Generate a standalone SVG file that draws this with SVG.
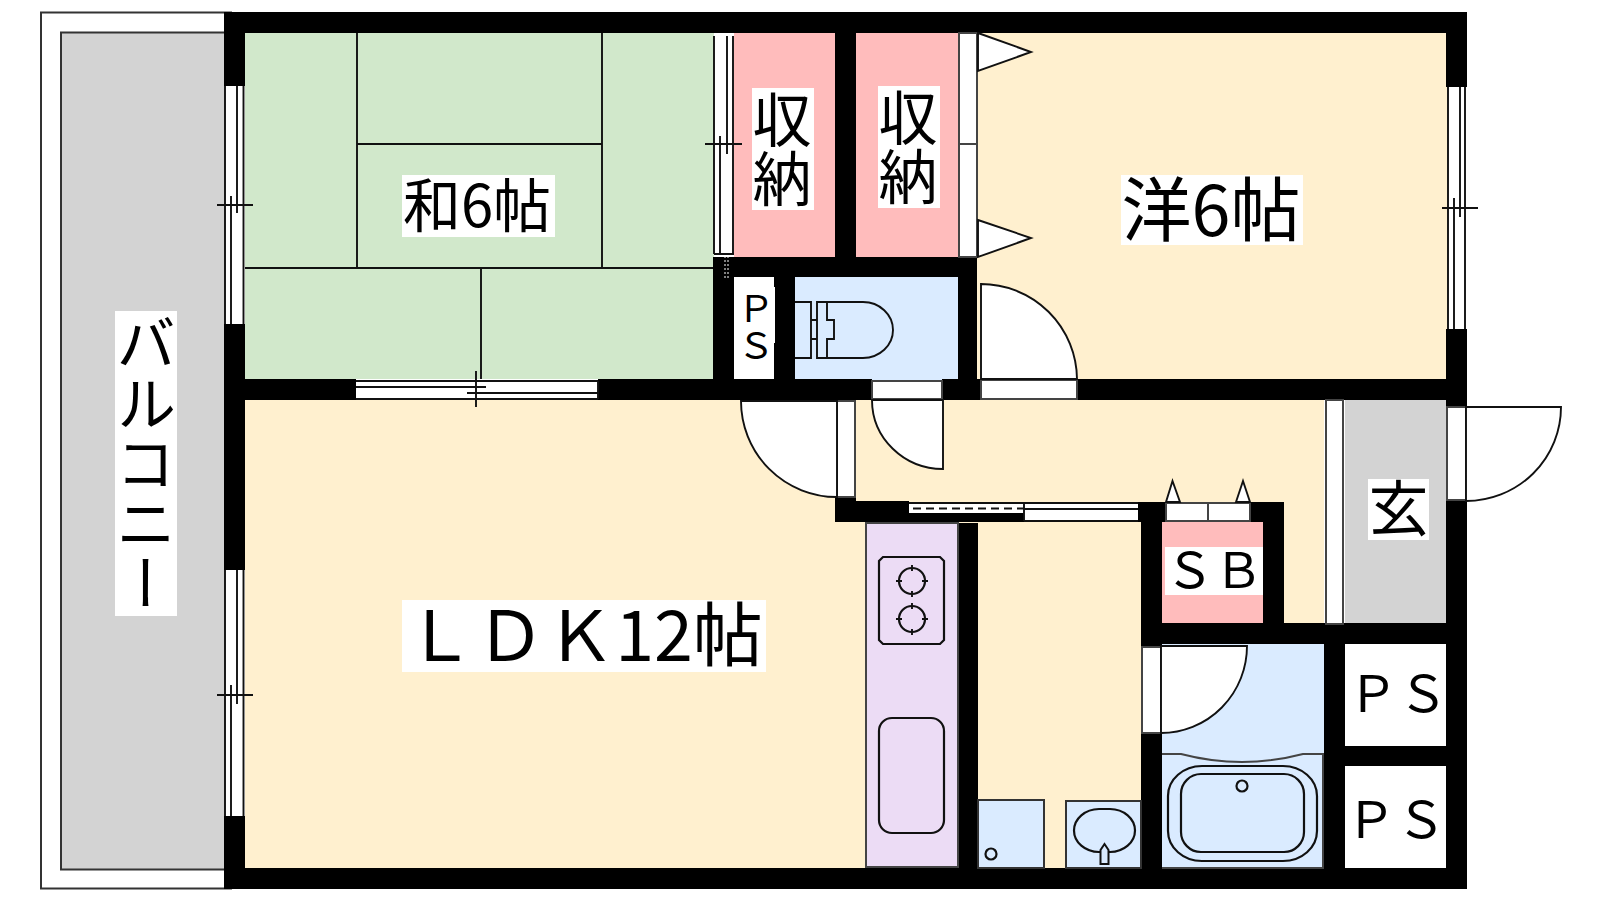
<svg xmlns="http://www.w3.org/2000/svg" width="1600" height="900" viewBox="0 0 1600 900">
<style>
.w{fill:#000}
.l{fill:none;stroke:#111;stroke-width:1.9}
.d{fill:#fff;stroke:#111;stroke-width:1.9}
.f{fill:#fff;stroke:#444;stroke-width:2}
.e{fill:none;stroke:#111;stroke-width:2.200}
.lb{fill:#fff}
text{font-family:"Noto Sans CJK JP","Noto Sans CJK SC",sans-serif;fill:#000;text-anchor:middle}
.v{writing-mode:vertical-rl}
</style>
<rect width="1600" height="900" fill="#fff"/>
<g id="balcony">
<rect x="41" y="12.500" width="190" height="876" fill="#fff" stroke="#333" stroke-width="2"/>
<rect x="61" y="32.500" width="170" height="837" fill="#d3d3d3" stroke="#333" stroke-width="2"/>
<rect x="115" y="311" width="62" height="305" class="lb"/>
<text class="v" x="146" y="463" font-size="60">バルコニー</text>
</g>
<g id="floors">
<rect x="245" y="33" width="469" height="347" fill="#d1e8cb"/>
<rect x="977" y="33" width="470" height="347" fill="#fff0cf"/>
<path d="M245 400H1324V623H1141V868H245Z" fill="#fff0cf"/>
<rect x="734" y="33" width="101" height="225" fill="#ffbcbc"/>
<rect x="856" y="33" width="103" height="225" fill="#ffbcbc"/>
<rect x="795" y="277" width="164" height="103" fill="#daebff"/>
<rect x="734" y="277" width="40" height="103" fill="#fff"/>
<rect x="1345" y="400" width="102" height="224" fill="#d3d3d3"/>
<rect x="1162" y="522" width="102" height="102" fill="#ffbcbc"/>
<rect x="1162" y="644" width="163" height="225" fill="#daebff"/>
<rect x="1345" y="644" width="102" height="225" fill="#fff"/>
</g>
<g id="tatami" class="l">
<path d="M357 33V268M602 33V268M357 144H602M245 268H714M481 268V380"/>
</g>
<g id="walls" class="w">
<rect x="224" y="12" width="1243" height="21"/>
<rect x="224" y="868" width="1243" height="21"/>
<rect x="224" y="12" width="21" height="74"/>
<rect x="224" y="324" width="21" height="246"/>
<rect x="224" y="816" width="21" height="73"/>
<rect x="1446" y="12" width="21" height="75"/>
<rect x="1446" y="329" width="21" height="78"/>
<rect x="1446" y="500" width="21" height="389"/>
<rect x="245" y="379" width="111" height="21"/>
<rect x="598" y="379" width="274" height="21"/>
<rect x="942" y="379" width="39" height="21"/>
<rect x="1077" y="379" width="390" height="21"/>
<rect x="835" y="33" width="21" height="224"/>
<rect x="713" y="257" width="264" height="20"/>
<rect x="713" y="257" width="21" height="123"/>
<rect x="774" y="257" width="21" height="123"/>
<rect x="958" y="257" width="19" height="143"/>
<rect x="835" y="497" width="21" height="25"/>
<rect x="835" y="501" width="74" height="21"/>
<rect x="909" y="513" width="115" height="9"/>
<rect x="958" y="523" width="20" height="345"/>
<rect x="1138" y="502" width="146" height="20"/>
<rect x="1141" y="502" width="21" height="145"/>
<rect x="1141" y="733" width="21" height="136"/>
<rect x="1263" y="502" width="21" height="142"/>
<rect x="1141" y="623" width="326" height="21"/>
<rect x="1324" y="623" width="21" height="246"/>
<rect x="1324" y="746" width="143" height="20"/>
</g>
<g id="windows">
<g id="window-west-1">
<rect x="225" y="86" width="20" height="238" fill="#fff"/>
<path class="l" d="M225 86V324M243.500 86V324M231 196V324M237 86V213M217 205H253"/>
</g>
<g id="window-west-2">
<rect x="225" y="570" width="20" height="246" fill="#fff"/>
<path class="l" d="M225 570V816M243.500 570V816M231 685V816M237 570V704M217 695H253"/>
</g>
<g id="window-east">
<rect x="1447" y="87" width="19" height="242" fill="#fff"/>
<path class="l" d="M1448 87V329M1465 87V329M1454 198V329M1460 87V217M1442 208H1478"/>
</g>
<g id="window-room">
<rect x="356" y="379" width="242" height="21" fill="#fff"/>
<path class="l" d="M356 381H598M356 399H598M356 387H486M467 393H598M476 371V407M598 381V399"/>
</g>
<g id="window-inner">
<rect x="714" y="36" width="20" height="218" fill="#fff"/>
<path class="l" d="M714 36V254M733 36V254M720 136V254M727 36V154M705 144H742M714 254H734"/>
<path d="M725 256V278M728 256V278" stroke="#fff" stroke-width="1" stroke-dasharray="2 2" fill="none"/>
</g>
<g id="window-kitchen">
<rect x="909" y="503" width="115" height="10" fill="#fff"/>
<rect x="1024" y="503" width="114" height="18" fill="#fff"/>
<path class="l" d="M1024 503H1138M1024 509H1138M1024 521H1138M1024 503V521M909 503H1024"/>
<path d="M913 508.500H1024" fill="none" stroke="#111" stroke-width="1.800" stroke-dasharray="8 5"/>
</g>
</g>
<g id="doors">
<g id="closet-door">
<rect x="959" y="33" width="18" height="224" class="f"/>
<path class="f" d="M959 144H977"/>
<path class="d" d="M978 33L1031 52L978 71Z"/>
<path class="d" d="M978 220L1031 238L978 257Z"/>
</g>
<g id="door-room">
<rect x="981" y="380" width="96" height="19" class="f"/>
<path class="d" d="M981 379V284A96 96 0 0 1 1077 379Z"/>
</g>
<g id="door-toilet">
<rect x="872" y="381" width="70" height="18" class="f"/>
<path class="d" d="M872 400H943V469A71 69 0 0 1 872 400Z"/>
</g>
<g id="door-ldk">
<rect x="837" y="401" width="18" height="96" class="f"/>
<path class="d" d="M741 401H837V497A96 96 0 0 1 741 401Z"/>
</g>
<g id="door-sb">
<rect x="1166" y="503" width="84" height="18" class="f"/>
<path class="f" d="M1208 503V521"/>
<path class="d" d="M1166 502L1172.500 481L1180 502Z"/>
<path class="d" d="M1236 502L1243 481L1250 502Z"/>
</g>
<g id="door-shoebox-wall">
<rect x="1326" y="400" width="17" height="224" class="f"/>
</g>
<g id="door-entrance">
<rect x="1447" y="407" width="19" height="93" class="f"/>
<path class="d" d="M1466 407H1561A95 94 0 0 1 1466 501Z"/>
</g>
<g id="door-wash">
<rect x="1142" y="647" width="19" height="86" class="f"/>
<path class="d" d="M1161 646H1247A86 87 0 0 1 1161 733Z"/>
</g>
</g>
<g id="toilet" class="l">
<path d="M795 302H811V358H795M811 320H817M811 339H817"/>
<path d="M817 302H863A30 28 0 0 1 863 358H817ZM827 302V320H834V339H827V358"/>
</g>
<g id="kitchen">
<rect x="866" y="523" width="92" height="344" fill="#ecdcf5" stroke="#444" stroke-width="2"/>
<path class="e" d="M883 557H940L944 561V640L940 644H883L879 640V561Z"/>
<circle class="e" cx="912" cy="581" r="13"/>
<circle class="e" cx="912" cy="619" r="13"/>
<path class="l" d="M912 565V571M912 591V597M896 581H902M922 581H928M912 603V609M912 629V635M896 619H902M922 619H928"/>
<rect class="e" x="879" y="718" width="65" height="115" rx="13"/>
</g>
<g id="washer">
<rect x="978" y="800" width="66" height="68" fill="#daebff" stroke="#333" stroke-width="2"/>
<circle class="e" cx="991" cy="854" r="5.500"/>
</g>
<g id="washbasin">
<rect x="1066" y="801" width="75" height="67" fill="#daebff" stroke="#333" stroke-width="2"/>
<rect class="e" x="1074" y="809" width="61" height="43" rx="25" ry="21.500"/>
<path d="M1100.500 864V850L1104.500 844L1108.500 850V864Z" fill="#daebff" stroke="#111" stroke-width="2"/>
</g>
<g id="bath">
<path d="M1162 754H1181Q1242 770 1303 754H1323V868H1162" fill="#daebff" stroke="#444" stroke-width="2"/>
<rect class="e" x="1168" y="766" width="149" height="95" rx="34" ry="30"/>
<rect class="e" x="1181" y="774" width="123" height="78" rx="20"/>
<circle class="e" cx="1242" cy="786" r="5.500"/>
</g>
<g id="labels">
<g id="label-washitsu"><rect x="402" y="175" width="153" height="62" class="lb"/><text x="477" y="227" font-size="58">和6帖</text></g>
<g id="label-yoshitsu"><rect x="1121" y="175" width="182" height="70" class="lb"/><text x="1211" y="236" font-size="70">洋6帖</text></g>
<g id="label-storage-1"><rect x="752" y="88" width="62" height="122" class="lb"/><text class="v" x="782" y="149" font-size="59">収納</text></g>
<g id="label-storage-2"><rect x="878" y="86" width="62" height="122" class="lb"/><text class="v" x="908" y="147" font-size="59">収納</text></g>
<g id="label-ps-small"><rect x="773" y="287" width="2" height="56" class="lb"/><text class="v" x="756" y="327" font-size="37">ＰＳ</text></g>
<g id="label-ldk"><rect x="402" y="600" width="364" height="72" class="lb"/><text x="584" y="661" font-size="70">ＬＤＫ12帖</text></g>
<g id="label-genkan"><rect x="1368" y="479" width="61" height="61" class="lb"/><text x="1398.500" y="531" font-size="60">玄</text></g>
<g id="label-sb"><rect x="1165" y="547" width="98" height="48" class="lb"/><text x="1214" y="588" font-size="49">ＳＢ</text></g>
<g id="label-ps-1"><text x="1398" y="712" font-size="50">ＰＳ</text></g>
<g id="label-ps-2"><text x="1396" y="838" font-size="50">ＰＳ</text></g>
</g>
</svg>
